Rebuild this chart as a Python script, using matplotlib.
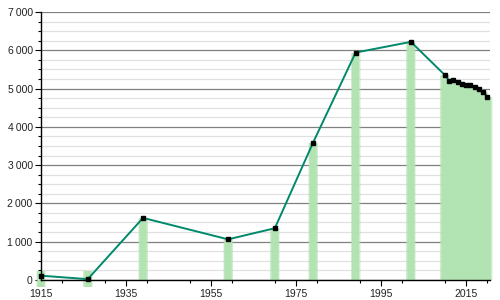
import numpy as np
import matplotlib.pyplot as plt
from matplotlib.ticker import MultipleLocator, FuncFormatter

# population by year
years = [1915, 1926, 1939, 1959, 1970, 1979, 1989, 2002,
         2010, 2011, 2012, 2013, 2014, 2015, 2016, 2017, 2018, 2019, 2020]
population = [110, 20, 1620, 1060, 1350, 3590, 5940, 6220,
              5350, 5200, 5230, 5160, 5110, 5100, 5090, 5050, 4980, 4900, 4790]

x_ticks = [1915, 1935, 1955, 1975, 1995, 2015]

bar_color = '#b2e3b2'
line_color = '#00896b'


def thin_space(v, pos):
    return '{:,.0f}'.format(v).replace(',', '\u2009')


def main():
    plt.rcParams['font.family'] = ['Liberation Sans', 'DejaVu Sans']
    fig = plt.figure(figsize=(5, 3), dpi=100)
    ax = fig.add_axes([0.082, 0.067, 0.898, 0.893])

    # tiny values get a small blurred blob that spills under the axis
    pop = np.array(population, dtype=float)
    small = pop < 300
    bottoms = np.where(small, -190, 0)
    heights = np.where(small, 430, pop)

    # soft edged bars: stack of narrowing translucent bars
    for w, a in [(2.4, 0.3), (2.1, 0.45), (1.8, 0.6), (1.5, 0.9)]:
        ax.bar(years, heights, bottom=bottoms, width=w, color=bar_color,
               alpha=a, linewidth=0, zorder=2, clip_on=False)

    ax.plot(years, population, color=line_color, lw=1.4, zorder=3)
    ax.plot(years, population, ls='none', marker='s', ms=3.2,
            color='black', zorder=4, clip_on=False)

    ax.set_xlim(1915, 2020.6)
    ax.set_ylim(0, 7000)
    ax.set_xticks(x_ticks)
    ax.xaxis.set_minor_locator(MultipleLocator(10))
    ax.yaxis.set_major_locator(MultipleLocator(1000))
    ax.yaxis.set_minor_locator(MultipleLocator(250))
    ax.yaxis.set_major_formatter(FuncFormatter(thin_space))

    ax.grid(axis='y', which='major', color='#808080', lw=0.9, zorder=0)
    ax.grid(axis='y', which='minor', color='#e0e0e0', lw=0.9, zorder=0)
    ax.set_axisbelow(True)

    for s in ['top', 'right']:
        ax.spines[s].set_visible(False)
    for s in ['left', 'bottom']:
        ax.spines[s].set_color('black')
        ax.spines[s].set_linewidth(1.0)
        ax.spines[s].set_zorder(5)

    ax.tick_params(axis='both', which='major', length=4, width=0.8,
                   labelsize=7.5, colors='black', labelcolor='#222222', pad=2)
    ax.tick_params(axis='x', which='major', pad=2.5)
    ax.tick_params(axis='both', which='minor', length=2.5, width=0.8,
                   colors='black')

    fig.savefig('out.png', dpi=100)


if __name__ == '__main__':
    main()
